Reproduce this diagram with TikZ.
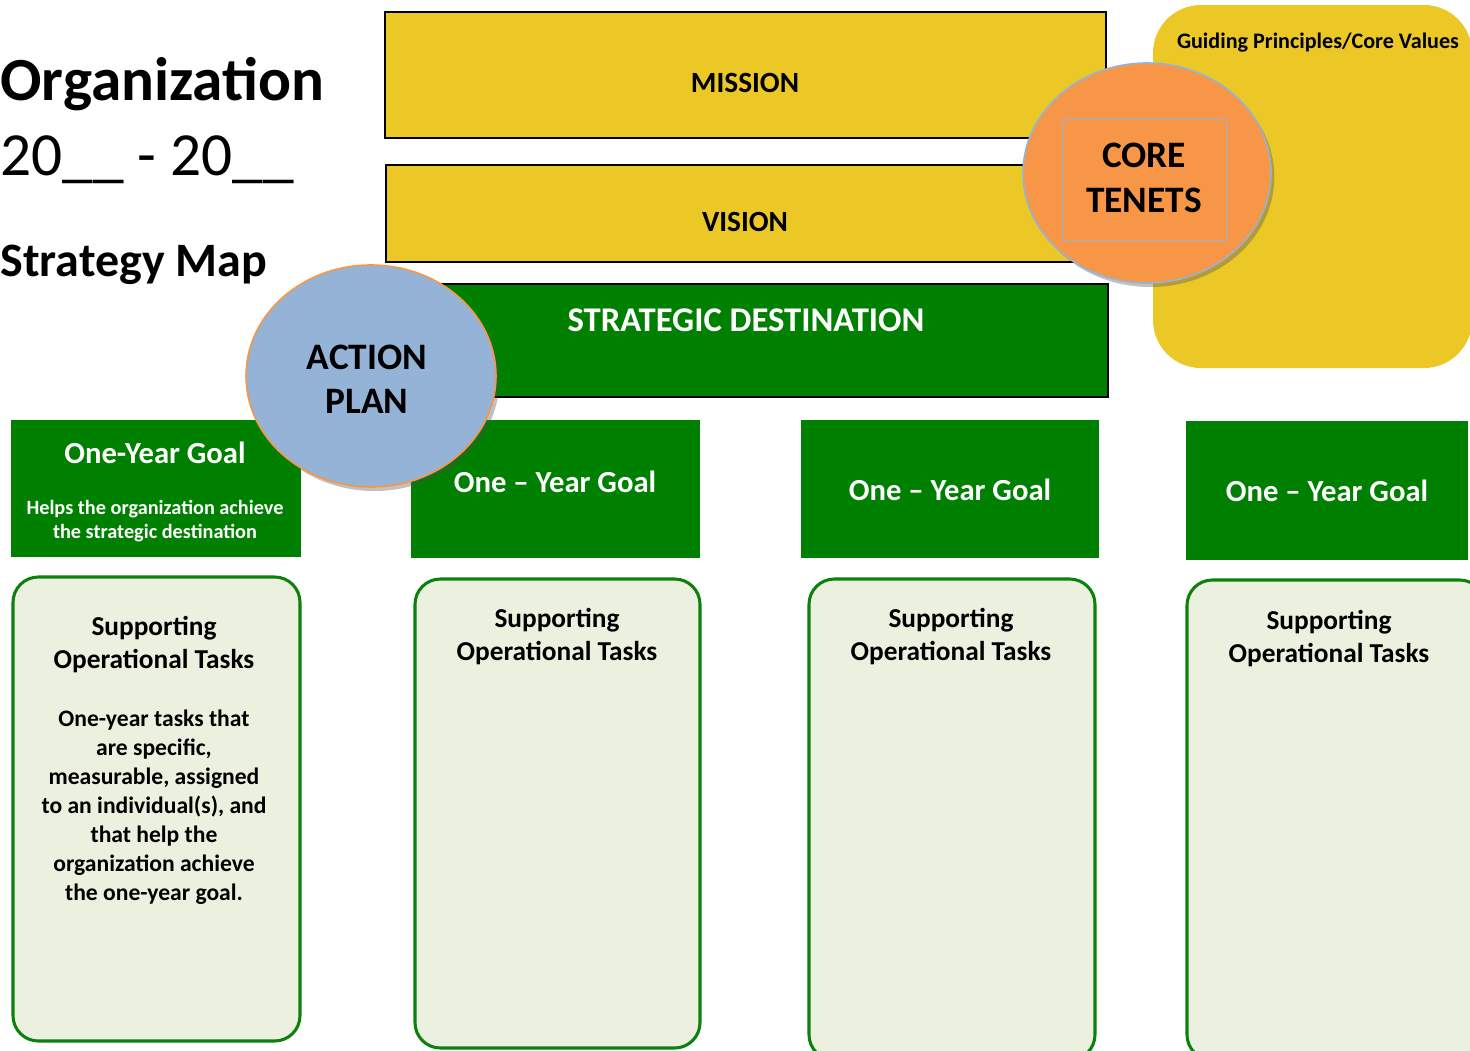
\documentclass[tikz,border=0pt]{standalone}
\usepackage{fontspec}
\setmainfont{Carlito}
\usetikzlibrary{shadows}

\tikzset{every picture/.style={line width=0.75pt}}
\tikzset{
  yellowbar/.style={draw={rgb, 255:red, 0; green, 0; blue, 0 }, line width=1.1pt, fill={rgb, 255:red, 235; green, 200; blue, 38 }},
  greenbar/.style={draw={rgb, 255:red, 0; green, 0; blue, 0 }, line width=1.1pt, fill={rgb, 255:red, 0; green, 128; blue, 0 }},
  goalbox/.style={draw=none, fill={rgb, 255:red, 0; green, 128; blue, 0 }},
  taskbox/.style={draw={rgb, 255:red, 14; green, 128; blue, 14 }, line width=2.3pt, fill={rgb, 255:red, 235; green, 241; blue, 222 }, rounded corners=19pt},
  bubble/.style={line width=1.2pt, drop shadow={shadow xshift=2.5pt, shadow yshift=-3pt, opacity=0.35, fill=black!70}},
  bartext/.style={inner sep=0.75pt, align=center, font=\bfseries\fontsize{22}{26}\selectfont},
  goaltext/.style={inner sep=0.75pt, align=center, text=white, font=\bfseries\fontsize{23}{27}\selectfont},
  tasktitle/.style={inner sep=0.75pt, align=center, font=\bfseries\fontsize{20.5}{24.75}\selectfont},
}

\begin{document}
\begin{tikzpicture}[x=0.75pt,y=0.75pt,yscale=-1,xscale=1]
\path[use as bounding box] (0,0) rectangle (1470,1050);
\clip (0,0) rectangle (1470,1050);

%Shape: Rectangle [mission]
\draw [yellowbar] (385,12) rectangle (1106,138);
%Shape: Rectangle [vision]
\draw [yellowbar] (386,165) rectangle (1106,262);
%Shape: Rectangle [strategic destination]
\draw [greenbar] (430,284) rectangle (1108,397);
%Shape: Rounded Rect [guiding principles]
\draw [draw=none, fill={rgb, 255:red, 235; green, 200; blue, 38 }, rounded corners=36pt] (1153,5) rectangle (1472,368);

%Shape: Ellipse [core tenets]
\draw [bubble, draw={rgb, 255:red, 149; green, 179; blue, 215 }, fill={rgb, 255:red, 247; green, 150; blue, 70 }] (1147,173) ellipse (124 and 110);
%Shape: Rectangle [core tenets frame]
\draw [draw={rgb, 255:red, 149; green, 179; blue, 215 }, line width=0.6pt] (1062,118) rectangle (1226,240);

%Shape: Rectangle [goals]
\draw [goalbox] (11,420) rectangle (301,557);
\draw [goalbox] (411,420) rectangle (700,558);
\draw [goalbox] (801,420) rectangle (1099,558);
\draw [goalbox] (1186,421) rectangle (1468,560);

%Shape: Ellipse [action plan]
\draw [bubble, draw={rgb, 255:red, 247; green, 150; blue, 70 }, fill={rgb, 255:red, 149; green, 179; blue, 215 }] (371,376) ellipse (125 and 111);

%Shape: Rounded Rect [tasks]
\draw [taskbox] (13,577) rectangle (300,1041);
\draw [taskbox] (415,579) rectangle (700,1048);
\draw [taskbox] (809,579) rectangle (1095,1060);
\draw [taskbox] (1187,580) rectangle (1485,1060);

% Text Node
\node (org) at (0,100) [anchor=base west, inner sep=0pt, font=\bfseries\fontsize{46}{56}\selectfont] {Organization};
% Text Node
\node (years) at (0,175) [anchor=base west, inner sep=0pt, font=\fontsize{46}{56}\selectfont] {20\_\_ - 20\_\_};
% Text Node
\node (stratmap) at (0,276) [anchor=base west, inner sep=0pt, font=\bfseries\fontsize{36}{44}\selectfont] {Strategy Map};
% Text Node
\node (mission) at (745,83) [bartext] {MISSION};
% Text Node
\node (vision) at (745,222) [bartext] {VISION};
% Text Node
\node (destination) at (746,320) [goaltext, font=\bfseries\fontsize{26}{31}\selectfont] {STRATEGIC DESTINATION};
% Text Node
\node (principles) at (1318,43) [bartext, font=\bfseries\fontsize{16.6}{20}\selectfont] {Guiding Principles/Core Values};
% Text Node
\node (tenets) at (1144,178) [bartext, font=\bfseries\fontsize{28}{34}\selectfont] {CORE\\TENETS};
% Text Node
\node (actionplan) at (367,379) [bartext, font=\bfseries\fontsize{28}{33}\selectfont] {ACTION\\PLAN};
% Text Node
\node (goal1) at (155,453) [goaltext] {One-Year Goal};
% Text Node
\node (goal1note) at (155,521) [goaltext, font=\bfseries\fontsize{15.2}{18}\selectfont] {Helps the organization achieve\\the strategic destination};
% Text Node
\node (goal2) at (555,482) [goaltext] {One -- Year Goal};
% Text Node
\node (goal3) at (950,490) [goaltext] {One -- Year Goal};
% Text Node
\node (goal4) at (1327,491) [goaltext] {One -- Year Goal};
% Text Node
\node (tasks1) at (154,645) [tasktitle] {Supporting\\Operational Tasks};
% Text Node
\node (tasks1note) at (154,807) [tasktitle, font=\bfseries\fontsize{17.7}{21.75}\selectfont] {One-year tasks that\\are specific,\\measurable, assigned\\to an individual(s), and\\that help the\\organization achieve\\the one-year goal.};
% Text Node
\node (tasks2) at (557,637) [tasktitle] {Supporting\\Operational Tasks};
% Text Node
\node (tasks3) at (951,637) [tasktitle] {Supporting\\Operational Tasks};
% Text Node
\node (tasks4) at (1329,639) [tasktitle] {Supporting\\Operational Tasks};

\end{tikzpicture}
\end{document}
